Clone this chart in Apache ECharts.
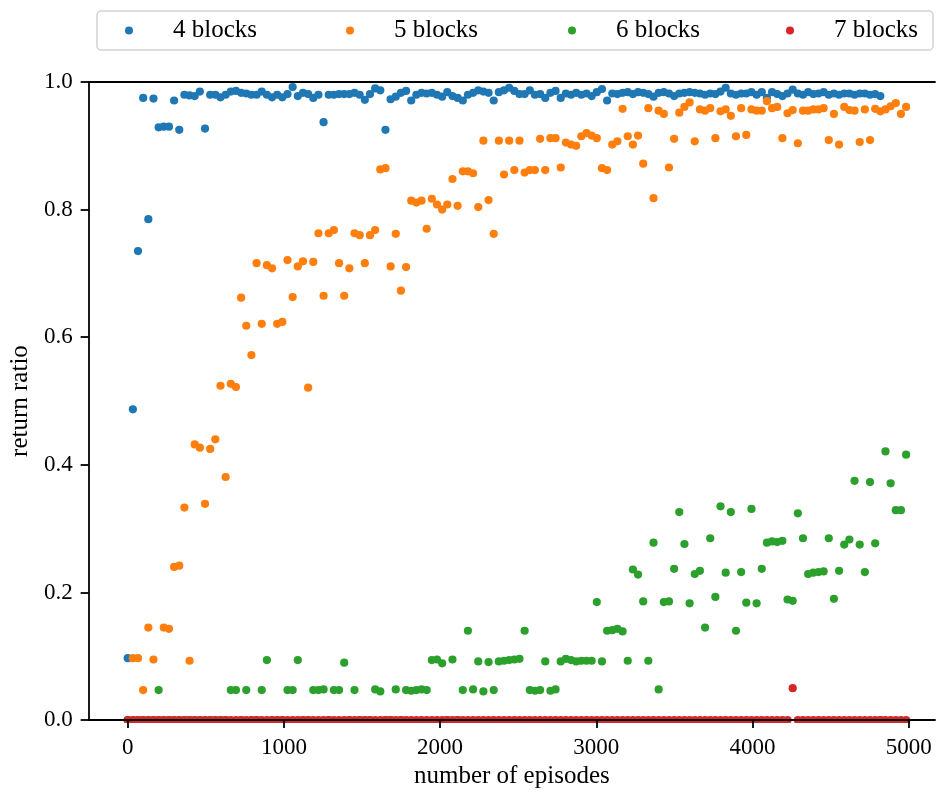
<!DOCTYPE html>
<html>
<head>
<meta charset="utf-8">
<script src="https://cdn.jsdelivr.net/npm/echarts@6/dist/echarts.min.js"></script>
<style>
  html, body { margin: 0; padding: 0; background: #fff; }
  #chart { width: 937px; height: 794px; }
</style>
</head>
<body>
<div id="chart"></div>
<script>
// Evaluation runs happen every EVAL_INTERVAL episodes; each array below holds
// the return ratio measured at evaluation 0, 1, 2, ...
const EVAL_INTERVAL = 33;

const seriesNames = ['4 blocks', '5 blocks', '6 blocks', '7 blocks'];
const seriesColors = ['#1f77b4', '#ff7f0e', '#2ca02c', '#d62728'];

const xTicks = [0, 1000, 2000, 3000, 4000, 5000];
const yTicks = [0, 0.2, 0.4, 0.6, 0.8, 1.0];

const ratio4 = [
  0.097, 0.487, 0.735, 0.975, 0.785, 0.974, 0.929, 0.930, 0.930, 0.971,
  0.925, 0.980, 0.979, 0.978, 0.985, 0.927, 0.980, 0.980, 0.976, 0.980,
  0.985, 0.986, 0.983, 0.982, 0.980, 0.980, 0.985, 0.980, 0.976, 0.980,
  0.976, 0.981, 0.992, 0.978, 0.983, 0.981, 0.975, 0.980, 0.937, 0.980,
  0.980, 0.981, 0.981, 0.981, 0.983, 0.980, 0.972, 0.981, 0.990, 0.987,
  0.925, 0.973, 0.977, 0.983, 0.986, 0.971, 0.980, 0.983, 0.982, 0.983,
  0.980, 0.977, 0.984, 0.978, 0.975, 0.971, 0.980, 0.983, 0.987, 0.985,
  0.983, 0.971, 0.984, 0.987, 0.991, 0.986, 0.981, 0.981, 0.987, 0.980,
  0.981, 0.975, 0.983, 0.986, 0.975, 0.982, 0.980, 0.983, 0.980, 0.982,
  0.978, 0.984, 0.989, 0.971, 0.982, 0.981, 0.983, 0.984, 0.981, 0.984,
  0.983, 0.981, 0.977, 0.983, 0.984, 0.982, 0.978, 0.982, 0.983, 0.984,
  0.983, 0.982, 0.980, 0.982, 0.981, 0.985, 0.991, 0.982, 0.980, 0.982,
  0.982, 0.984, 0.980, 0.984, 0.975, 0.984, 0.981, 0.978, 0.982, 0.988,
  0.982, 0.980, 0.984, 0.981, 0.982, 0.984, 0.980, 0.982, 0.980, 0.982,
  0.982, 0.980, 0.982, 0.982, 0.980, 0.981, 0.978
];

const ratio5 = [
  0.000, 0.097, 0.097, 0.047, 0.145, 0.095, 0.000, 0.145, 0.143, 0.240,
  0.242, 0.333, 0.093, 0.432, 0.427, 0.339, 0.425, 0.440, 0.524, 0.381,
  0.527, 0.522, 0.662, 0.618, 0.572, 0.716, 0.621, 0.713, 0.708, 0.621,
  0.624, 0.721, 0.663, 0.711, 0.719, 0.521, 0.718, 0.763, 0.665, 0.763,
  0.768, 0.716, 0.665, 0.708, 0.763, 0.760, 0.716, 0.760, 0.768, 0.863,
  0.865, 0.711, 0.762, 0.673, 0.710, 0.814, 0.811, 0.814, 0.770, 0.817,
  0.808, 0.800, 0.808, 0.848, 0.806, 0.860, 0.860, 0.857, 0.804, 0.908,
  0.815, 0.762, 0.908, 0.855, 0.908, 0.862, 0.908, 0.858, 0.862, 0.862,
  0.911, 0.862, 0.912, 0.912, 0.866, 0.905, 0.902, 0.900, 0.915, 0.920,
  0.916, 0.912, 0.865, 0.862, 0.902, 0.907, 0.958, 0.915, 0.902, 0.916,
  0.872, 0.959, 0.818, 0.955, 0.950, 0.866, 0.911, 0.952, 0.961, 0.968,
  0.907, 0.957, 0.955, 0.959, 0.912, 0.954, 0.957, 0.947, 0.915, 0.959,
  0.917, 0.957, 0.955, 0.955, 0.970, 0.959, 0.961, 0.912, 0.951, 0.956,
  0.904, 0.955, 0.955, 0.957, 0.957, 0.959, 0.909, 0.950, 0.902, 0.961,
  0.956, 0.955, 0.906, 0.957, 0.909, 0.958, 0.954, 0.957, 0.962, 0.967,
  0.950, 0.961
];

const ratio6 = [
  0.000, 0.000, 0.000, 0.000, 0.000, 0.000, 0.047, 0.000, 0.000, 0.000,
  0.000, 0.000, 0.000, 0.000, 0.000, 0.000, 0.000, 0.000, 0.000, 0.000,
  0.047, 0.047, 0.000, 0.047, 0.000, 0.000, 0.047, 0.094, 0.000, 0.000,
  0.000, 0.047, 0.047, 0.094, 0.000, 0.000, 0.047, 0.047, 0.048, 0.000,
  0.047, 0.047, 0.090, 0.000, 0.047, 0.000, 0.000, 0.000, 0.048, 0.045,
  0.000, 0.000, 0.048, 0.000, 0.047, 0.046, 0.047, 0.048, 0.047, 0.094,
  0.095, 0.089, 0.000, 0.095, 0.000, 0.047, 0.140, 0.048, 0.092, 0.045,
  0.091, 0.047, 0.092, 0.093, 0.094, 0.095, 0.096, 0.140, 0.047, 0.046,
  0.047, 0.092, 0.046, 0.048, 0.092, 0.096, 0.094, 0.092, 0.093, 0.093,
  0.093, 0.185, 0.092, 0.140, 0.141, 0.143, 0.139, 0.093, 0.236, 0.228,
  0.186, 0.093, 0.278, 0.048, 0.185, 0.186, 0.237, 0.326, 0.276, 0.183,
  0.229, 0.234, 0.145, 0.285, 0.193, 0.335, 0.231, 0.326, 0.140, 0.232,
  0.184, 0.331, 0.183, 0.237, 0.278, 0.280, 0.279, 0.281, 0.189, 0.187,
  0.324, 0.285, 0.229, 0.231, 0.232, 0.233, 0.285, 0.190, 0.234, 0.275,
  0.283, 0.375, 0.275, 0.232, 0.373, 0.277, 0.000, 0.421, 0.371, 0.329,
  0.329, 0.416
];

const ratio7 = [
  0, 0, 0, 0, 0, 0, 0, 0, 0, 0, 0, 0, 0, 0, 0, 0, 0, 0, 0, 0,
  0, 0, 0, 0, 0, 0, 0, 0, 0, 0, 0, 0, 0, 0, 0, 0, 0, 0, 0, 0,
  0, 0, 0, 0, 0, 0, 0, 0, 0, 0, 0, 0, 0, 0, 0, 0, 0, 0, 0, 0,
  0, 0, 0, 0, 0, 0, 0, 0, 0, 0, 0, 0, 0, 0, 0, 0, 0, 0, 0, 0,
  0, 0, 0, 0, 0, 0, 0, 0, 0, 0, 0, 0, 0, 0, 0, 0, 0, 0, 0, 0,
  0, 0, 0, 0, 0, 0, 0, 0, 0, 0, 0, 0, 0, 0, 0, 0, 0, 0, 0, 0,
  0, 0, 0, 0, 0, 0, 0, 0, 0, 0.05, 0, 0, 0, 0, 0, 0, 0, 0, 0, 0,
  0, 0, 0, 0, 0, 0, 0, 0, 0, 0, 0, 0
];

const allRatios = [ratio4, ratio5, ratio6, ratio7];

const FONT = '"Liberation Serif", "DejaVu Serif", serif';

// plot frame, in page pixels
const PLOT = { left: 83, right: 935, top: 82, bottom: 723 };

function toPoints(values) {
  return values.map((v, i) => [i * EVAL_INTERVAL, v]);
}

const chart = echarts.init(document.getElementById('chart'), null, { renderer: 'canvas' });

const legendCenters = [129, 350, 572, 790];

const option = {
  animation: false,
  backgroundColor: '#ffffff',
  grid: {
    left: PLOT.left, right: 937 - PLOT.right, top: PLOT.top, bottom: 794 - PLOT.bottom,
    containLabel: false
  },
  graphic: [{
    // legend frame
    type: 'rect',
    z: 0,
    shape: { x: 97, y: 11, width: 836, height: 39, r: 4 },
    style: { fill: '#ffffff', stroke: '#d2d2d2', lineWidth: 1.5 }
  }, {
    // hides the parts of the markers that fall below the plot frame
    type: 'rect',
    z: 50,
    silent: true,
    shape: { x: PLOT.left - 6, y: PLOT.bottom, width: PLOT.right - PLOT.left + 12, height: 7 },
    style: { fill: '#ffffff' }
  }],
  legend: seriesNames.map((name, k) => ({
    data: [name],
    left: legendCenters[k] - 4,
    top: 18,
    padding: 0,
    itemWidth: 8,
    itemHeight: 8,
    icon: 'circle',
    z: 5,
    textStyle: {
      fontFamily: FONT,
      fontSize: 25,
      color: '#000',
      lineHeight: 24,
      padding: [0, 0, 0, 35]
    }
  })),
  xAxis: [{
    type: 'value',
    min: -250,
    max: 5168,
    z: 60,
    name: 'number of episodes',
    nameLocation: 'middle',
    nameGap: 43,
    nameTextStyle: { fontFamily: FONT, fontSize: 25, color: '#000' },
    axisLine: { show: true, onZero: false, lineStyle: { color: '#000', width: 1.8 } },
    axisTick: { show: true, length: 8, lineStyle: { color: '#000', width: 1.8 }, customValues: xTicks },
    axisLabel: {
      show: true, margin: 16, fontFamily: FONT, fontSize: 23, color: '#000',
      customValues: xTicks, formatter: v => String(Math.round(v))
    },
    splitLine: { show: false }
  }, {
    type: 'value',
    position: 'top',
    min: -250,
    max: 5168,
    z: 60,
    axisLine: { show: true, onZero: false, lineStyle: { color: '#000', width: 1.8 } },
    axisTick: { show: false },
    axisLabel: { show: false },
    splitLine: { show: false }
  }],
  yAxis: {
    type: 'value',
    min: 0,
    max: 1,
    interval: 0.2,
    z: 60,
    name: 'return ratio',
    nameLocation: 'middle',
    nameGap: 51,
    nameTextStyle: { fontFamily: FONT, fontSize: 25, color: '#000' },
    axisLine: { show: true, onZero: false, lineStyle: { color: '#000', width: 1.8 } },
    axisTick: { show: true, length: 8, lineStyle: { color: '#000', width: 1.8 } },
    axisLabel: {
      margin: 16, fontFamily: FONT, fontSize: 23, color: '#000',
      formatter: v => v.toFixed(1)
    },
    splitLine: { show: false }
  },
  series: seriesNames.map((name, k) => ({
    name,
    type: 'scatter',
    xAxisIndex: 0,
    data: toPoints(allRatios[k]),
    symbol: 'circle',
    symbolSize: 8.2,
    clip: true,
    z: 2 + k,
    itemStyle: { color: seriesColors[k], opacity: 1 },
    emphasis: { disabled: true }
  }))
};

chart.setOption(option);
</script>
</body>
</html>
